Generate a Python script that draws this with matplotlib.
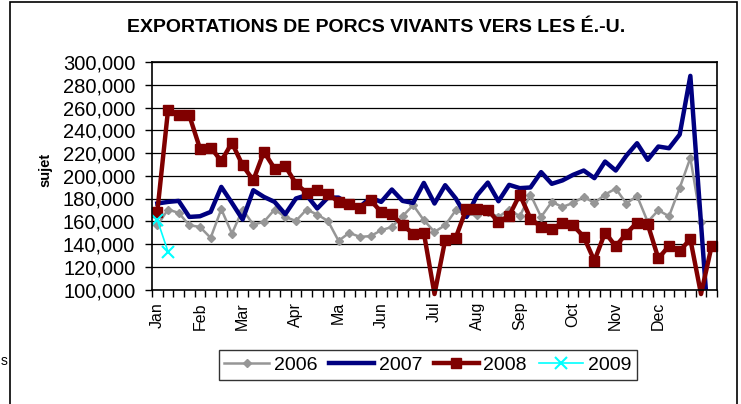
import numpy as np
import matplotlib.pyplot as plt
from matplotlib.patches import Rectangle
from matplotlib.ticker import FuncFormatter, MultipleLocator

plt.rcParams['font.family'] = ['Liberation Sans', 'DejaVu Sans']

# semaines 1..53, valeurs en têtes
semaines = np.arange(53)

mois = ['Jan', 'Feb', 'Mar', 'Apr', 'Ma', 'Jun', 'Jul', 'Aug', 'Sep', 'Oct', 'Nov', 'Dec']
mois_pos = [0, 4, 8, 13, 17, 21, 26, 30, 34, 39, 43, 47]

v2006 = [156500, 170300, 167400, 156500, 155000, 145400, 170600, 149200, 170300, 157100,
         159500, 170300, 163800, 160300, 170300, 165900, 160300, 142800, 149800, 146300,
         146900, 152100, 155000, 164400, 174100, 160900, 150700, 156500, 169700, 166200,
         165300, 168200, 163800, 170300, 164400, 183500, 163800, 177000, 172600, 176100,
         181400, 176100, 183500, 188700, 175600, 182300, 159500, 169700, 164400, 189300,
         215700, 159500, np.nan]

v2007 = [175600, 177000, 177900, 163800, 164400, 168200, 190200, 176100, 161500, 187300,
         181400, 177000, 166200, 180000, 182900, 171200, 180800, 180800, 175000, 172600,
         180800, 177000, 187900, 177900, 176100, 193700, 175600, 191700, 180000, 163800,
         182900, 194000, 177600, 192000, 189100, 189700, 203200, 192900, 195900, 200800,
         204600, 197900, 212500, 204600, 217700, 228600, 214000, 225700, 224200, 236200,
         287800, 158000, 30000]

v2008 = [168500, 257500, 253000, 253000, 223900, 224800, 213000, 228900, 209200, 196000,
         221000, 206300, 208400, 193100, 185000, 187300, 184300, 177000, 175000, 171800,
         178500, 168200, 166200, 156500, 149200, 149800, 96000, 143400, 145700, 171200,
         171200, 169700, 159500, 164700, 183500, 162400, 155000, 153000, 158600, 156500,
         146300, 125200, 150100, 138000, 149200, 158900, 157400, 127300, 138400, 134000,
         144200, 96000, 138400]

v2009 = [161200, 133300]

fig = plt.figure(figsize=(7.41, 4.04), dpi=100)
ax = fig.add_axes([152 / 741, 1 - 289.5 / 404, 565 / 741, 227.5 / 404])

# cadre du graphique
fig.patches.append(Rectangle((10 / 741, -0.05), 727 / 741, 1.05 - 2.5 / 404,
                             transform=fig.transFigure, fill=False,
                             edgecolor='black', linewidth=1.2))

ax.plot(semaines, v2006, color='#969696', lw=1.8, marker='D', ms=4.5, label='2006')
ax.plot(semaines, v2007, color='#000080', lw=3.2, label='2007')
# 2008 : creux sous l'axe, sans marqueur
ok = [i for i, v in enumerate(v2008) if v >= 100000]
ax.plot(semaines, v2008, color='#800000', lw=3.2, marker='s', ms=6.5,
        markevery=ok, clip_on=False, label='2008')
ax.plot(semaines[:len(v2009)], v2009, color='#00FFFF', lw=1.2, marker='x', ms=9,
        mew=1.5, label='2009')

ax.set_xlim(-0.5, 52.5)
ax.set_ylim(100000, 300000)
ax.yaxis.set_major_locator(MultipleLocator(20000))
ax.yaxis.set_major_formatter(FuncFormatter(lambda v, p: f"{int(v):,}"))
ax.grid(axis='y', color='black', lw=0.9)
ax.set_axisbelow(True)

ax.set_xticks(mois_pos)
ax.set_xticklabels(mois, rotation=90, fontsize=11.5)
ax.set_xticks(np.arange(-0.5, 53, 1), minor=True)
ax.tick_params(axis='x', which='major', length=0, pad=9)
ax.tick_params(axis='x', which='minor', length=5, width=1, direction='out')
ax.tick_params(axis='y', labelsize=14.5, length=5, width=1, pad=7)
for s in ax.spines.values():
    s.set_color('black')
    s.set_linewidth(1.2)

fig.text(45.7 / 741, 1 - 170 / 404, 'sujet', rotation=90, fontsize=10.5,
         fontweight='bold', ha='center', va='center')
fig.text(376 / 741, 1 - 27 / 404, 'EXPORTATIONS DE PORCS VIVANTS VERS LES É.-U.',
         fontsize=14, fontweight='bold', ha='center', va='center')
fig.text(0.5 / 741, 1 - 361 / 404, 's', fontsize=10, ha='left', va='center')

leg = fig.legend(loc='center', bbox_to_anchor=(428 / 741, 1 - 365 / 404), ncol=4,
                 fontsize=14, frameon=True, fancybox=False, handlelength=2.3,
                 handletextpad=0.25, columnspacing=0.6, borderpad=0.3)
leg.get_frame().set_edgecolor('black')
leg.get_frame().set_linewidth(1.0)

plt.savefig('out.png', dpi=100)
